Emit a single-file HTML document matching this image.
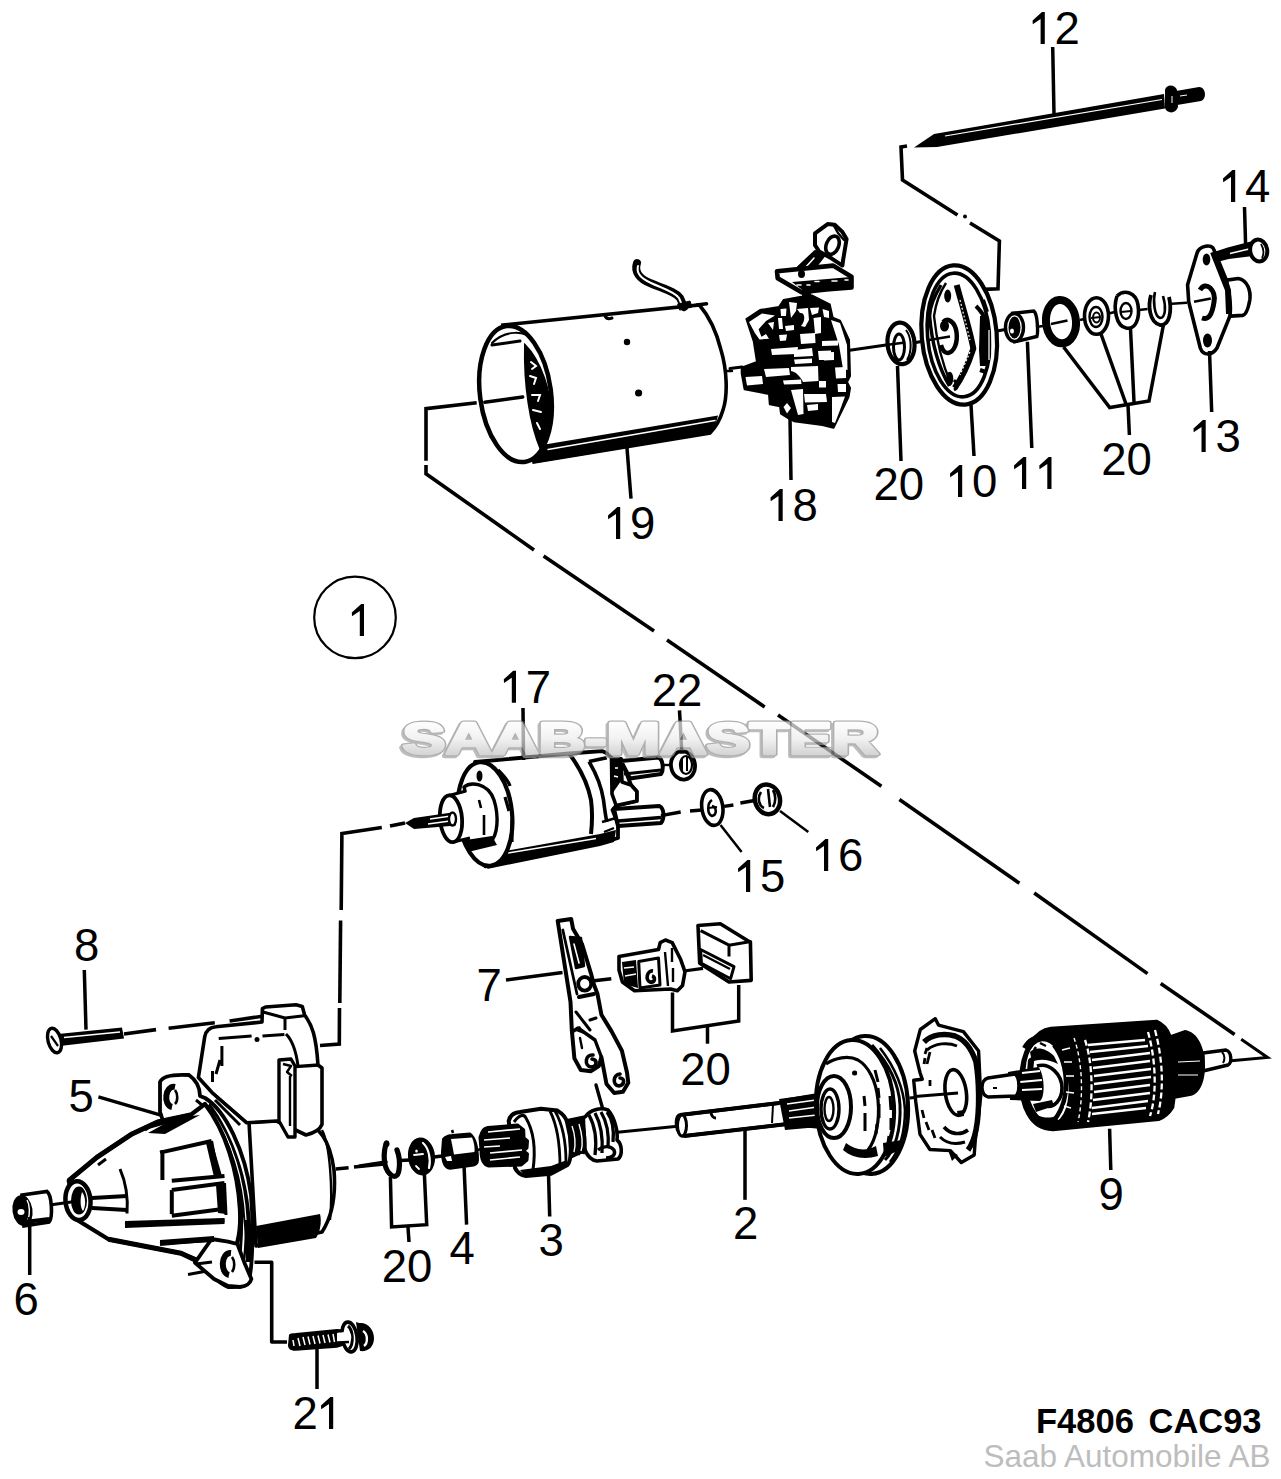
<!DOCTYPE html>
<html><head><meta charset="utf-8"><style>
html,body{margin:0;padding:0;background:#fff;width:1281px;height:1479px;overflow:hidden}
svg{display:block}
text{font-family:"Liberation Sans",sans-serif}
</style></head><body>
<svg width="1281" height="1479" viewBox="0 0 1281 1479">
<defs>
<linearGradient id="wg" gradientUnits="userSpaceOnUse" x1="0" y1="721" x2="0" y2="757">
<stop offset="0" stop-color="#ffffff"/><stop offset="0.5" stop-color="#ececec"/><stop offset="1" stop-color="#bcbcbc"/>
</linearGradient>
</defs>

<g id="dashes" stroke="#000" stroke-width="3.6" fill="none" stroke-linejoin="miter">
<polyline points="476.7,402.8 426,408.7 426,460.8"/>
<line x1="485.5" y1="401.7" x2="522.4" y2="397"/>
<polyline points="426,465 426,473.7 534,550"/>
<line x1="543.6" y1="556" x2="654" y2="631"/>
<line x1="667" y1="640" x2="764.7" y2="707"/>
<line x1="778" y1="715" x2="881.4" y2="786.3"/>
<line x1="899.4" y1="799.4" x2="1019.4" y2="883.2"/>
<line x1="1034.2" y1="893" x2="1147.5" y2="973.6"/>
<line x1="1160.7" y1="983.5" x2="1234.6" y2="1034.4"/>
<polyline points="1241.2,1039.3 1267.5,1057.4 1231.3,1060.7" stroke-width="3"/>
<!-- from rod 12 -->
<polyline points="907,146 901,147 902.5,180 957.5,215"/>
<circle cx="965" cy="216.5" r="2" fill="#000" stroke="none"/>
<polyline points="970,223 999.4,241 998,288.7 983.7,289.4"/>
</g>
<g id="p12">
<path d="M914,147.5 L934,134 L1164,94 L1165,108.5 L937,147 Z" fill="#000"/>
<line x1="945" y1="136" x2="1162" y2="99.5" stroke="#fff" stroke-width="1.2"/>
<path d="M1165,90 C1166,84 1175,84 1177,90 L1178,107 C1176,114 1167,114 1165,108 Z" fill="#000"/>
<path d="M1176,91 L1199,87 C1206,87 1207,99 1201,101 L1177,105 Z" fill="#000"/>
<line x1="1172" y1="96" x2="1172" y2="103" stroke="#fff" stroke-width="1"/>
<line x1="1180" y1="96" x2="1187" y2="95" stroke="#fff" stroke-width="1"/>
</g>
<g id="p19" stroke="#000" fill="none" stroke-linecap="round">
<path d="M503,325 L699.4,305 C708,315 716,330 721,350 C727,370 728,395 723,410 C720,420 715,428 710,433 L534,462 Z" fill="#fff" stroke-width="3.6"/>
<line x1="706" y1="303" x2="707" y2="303" stroke-width="0"/>
<line x1="697" y1="305" x2="706.5" y2="303.8" stroke-width="3.6"/>
<path d="M542,445 L718,415.5 C716,424 713,430 709,434 L533,463.5 Z" fill="#000" stroke="none"/>
<line x1="548" y1="449.5" x2="715" y2="420.5" stroke="#fff" stroke-width="1.4"/>
<ellipse cx="515.5" cy="394" rx="35.5" ry="68.5" transform="rotate(-7.5 515.5 394)" fill="#fff" stroke-width="4.5"/>
<path d="M492,343 C505,330 525,330 533,340" stroke-width="2"/>
<path d="M492,345 L520,341" stroke-width="3"/>
<path d="M525,345 C540,360 552,392 551,420 C549,435 545,445 541,450 C530,425 524,385 525,345 Z" fill="#000" stroke-width="2"/>
<path d="M531,362 l5,4 l-4,3 M530,376 l6,2 l-2,6 M532,395 l8,0 l-2,6 M533,410 l8,2 M537,423 l3,6" stroke="#fff" stroke-width="2"/>
<line x1="484.8" y1="402.3" x2="522.7" y2="397" stroke-width="3.4"/>
<path d="M605,316 q2,4 7,2" stroke-width="3"/>
<circle cx="627" cy="342" r="3.2" fill="#000" stroke="none"/>
<circle cx="638.6" cy="393" r="3.6" fill="#000" stroke="none"/>
<path d="M727,371 l5,0" stroke-width="2.4"/>
<path d="M637,263 C634,272 640,279 650,283 C664,289 676,292 680,298 L684,307" stroke-width="8"/>
<path d="M638,266 C636,273 642,279 651,283 C664,289 675,292 679,298 L682,305" stroke="#fff" stroke-width="2"/>
<path d="M678,304 l12,-3 l2,6 l-12,3 z" fill="#000" stroke-width="1"/>
</g>

<g id="p18" stroke="#000" fill="none" stroke-linejoin="round" stroke-linecap="round">
<line x1="742" y1="367" x2="730" y2="368.5" stroke-width="3"/>
<line x1="848" y1="350.4" x2="886" y2="345" stroke-width="3"/>
<path d="M815,233.3 L827.6,224.1 L834.7,224.8 L842.4,231.9 L846.6,239 L843,260.7 L842.4,265.6 L831.8,258.6 L819.2,251.5 L815,245.2 Z" fill="#fff" stroke-width="4"/>
<path d="M834,226 L838,233 L844,240" stroke-width="2.4"/>
<ellipse cx="832.5" cy="245.2" rx="6.2" ry="9.5" transform="rotate(22 832.5 245.2)" fill="#fff" stroke-width="3.6"/>
<path d="M798,267 L815,251 L825,255 L807,278 Z" fill="#000" stroke-width="2"/>
<path d="M805,268 L814,258" stroke="#fff" stroke-width="1.6"/>
<path d="M777,271.2 L833.2,265.6 L851.5,276.8 L851.5,287.4 L826.2,289.5 L801.6,292.3 L777.7,278.2 Z" fill="#fff" stroke-width="4.6"/>
<path d="M792,282 L851,277 L851.5,287 L805,292 Z" fill="#000" stroke="none"/>
<path d="M797,285 l4,0 M807,285 l3,0 M815,281.5 l4,0 M832,281 l5,0 M845,280 l3,0" stroke="#fff" stroke-width="1.6"/>
<ellipse cx="801.5" cy="274" rx="3.5" ry="4" fill="#000" stroke="none"/>
<path d="M801,290 L812,290 L810,300 L803,300 Z" fill="#000" stroke="none"/>
<path d="M746.4,319 L760,310 L779,307 L783.6,300 L800,297 L811.8,295.4 L829.7,304.3 L832.7,317.7 L840,320.7 L849,340 L850,376 L847,382 L850,388 L848.5,397 L833.5,427.8 L822.3,425 L794,421.2 L788.6,418.4 L781,413.7 L780,406.2 L769.8,404.3 L769,394 L744.6,389.3 L741.7,373.4 L741.7,367.8 L757,362 L753.8,341.5 Z" fill="#000" stroke-width="2"/>
<g fill="#fff" stroke="none">
<path d="M749,322 L762,313.5 L775,315.5 L766,321 L758.6,329.3 L761.4,336.8 L766,334 L769,338.7 L759.5,339.6 L754.9,333 Z"/>
<path d="M780.5,309 L786.5,308.5 L786,316 L781,316 Z"/>
<path d="M789,302 L797,303 L796,311 L791,318 Z"/>
<path d="M797,309 L808,308 L809,320 L805,327 L801,326 C806,320 805,312 800,313 Z"/>
<path d="M810,308 L819,307.5 L818,313 L812,315 Z"/>
<path d="M822.5,309 L829,311 L829,318 L824,317 Z"/>
<path d="M813.5,318 L821,317 L821,333 L815,334 Z"/>
<path d="M831,320 L840,323 L847,345 L847.5,370 L843,369 L839,345 Z"/>
<path d="M800,334 L815,333 L815.5,343 L801,344 Z"/>
<path d="M771,349 L798,347 L797,354 L772,355 Z"/>
<path d="M794,350 L812,348 L813,356 L794,357 Z"/>
<path d="M794,359.5 L812,358.5 L812,363 L795,364 Z"/>
<path d="M822,341 L838,340.5 L838,345.5 L822,346 Z"/>
<path d="M823,352.5 L834,352 L834,360 L824,360.5 Z"/>
<path d="M764,369 L789,368 L790,375 L766,377 Z"/>
<path d="M745.5,377 L762,376 L763,384 L747,385.5 Z"/>
<path d="M783,380.5 L801,379.5 L801.5,384 L784,384.5 Z"/>
<path d="M791,367 L818,366 L818.5,381 L803,382 C800,376 796,372 791,371 Z"/>
<path d="M835,367.5 L846,367 L846,378 L836,378.5 Z"/>
<path d="M818,351 L831,350.5 L831,360 L819,360 Z"/>
<path d="M837.5,384 L846,384 L846,392 L838,392 Z"/>
<path d="M791,390 L803,389 L803.5,414 L798,415 Z"/>
<path d="M804,394 L826,394 L827,402 L805,402.5 Z"/>
<path d="M783.5,407 L787,403 L791,408 L787,413.5 Z"/>
<path d="M832,397 L845,396.5 L840,410 L835,423 L832,422 Z"/>
<path d="M819,381 L826,381 L826,387.5 L819,387.5 Z"/>
<path d="M807,405 L818,404 L818,410 L808,411 Z"/>
<path d="M778,318 L782,318 L783,329 L779,329 Z"/>
<path d="M785,326 L794,325 L794,330 L786,331 Z"/>
<path d="M779,335 L787,334.5 L786,340.5 L780,341 Z"/>
<path d="M768,323 L774,322 L773,330 Z"/>
</g>
</g>
<g id="p10" stroke="#000" fill="none" stroke-linejoin="round">
<line x1="916" y1="342.5" x2="950" y2="336" stroke-width="3"/>
<line x1="997" y1="331" x2="1008" y2="329" stroke-width="3"/>
<ellipse cx="959.2" cy="335" rx="37.5" ry="69.8" transform="rotate(-5 959.2 335)" fill="#fff" stroke-width="4.2"/>
<ellipse cx="958.5" cy="335" rx="31" ry="62" transform="rotate(-5 958.5 335)" stroke-width="3.6"/>
<path d="M980,316 L988,316 L990,350 L988,366 L980,366 L979,350 Z" fill="#000" stroke="none"/>
<path d="M976,306 C982,312 985,318 986,322 M983,300 l4,12 M980,370 l6,2" stroke-width="4"/>
<path d="M989,330 l0,30 M992,325 l0,28" stroke="#fff" stroke-width="1.2"/>
<path d="M941,285 C935,295 930,305 929.6,316 C932,345 940,370 949.4,386" stroke-width="3.4"/>
<path d="M946,283 C940,292 936,302 934,316 C937,345 944,368 951,384" stroke-width="2.4"/>
<path d="M956.7,285 C962,305 970,330 973.3,348.6 C968,365 962,378 954.6,388" stroke-width="6"/>
<path d="M960,300 L970,340 M970,352 L960,375" stroke="#fff" stroke-width="1.2" stroke-dasharray="2 2"/>
<path d="M943,322 C948,317 955,322 956.5,332 C958,343 954,352 948,353 C944,353 942,349 941,345" stroke-width="4.5"/>
<ellipse cx="944.5" cy="326" rx="4.5" ry="5.5" fill="#000" stroke="none"/>
<ellipse cx="947.7" cy="296" rx="3.5" ry="6.5" fill="#000" stroke="none"/>
<ellipse cx="949.7" cy="378.7" rx="3.6" ry="7" fill="#000" stroke="none"/>
<path d="M954,380 C958,384 958,388 954,390" stroke-width="3"/>
<line x1="929" y1="340" x2="950" y2="336.5" stroke-width="2.6"/>
</g>
<g id="p20a" stroke="#000" fill="none">
<ellipse cx="901" cy="343.4" rx="13.5" ry="20.8" transform="rotate(-5 901 343.4)" fill="#fff" stroke-width="4.2"/>
<ellipse cx="899" cy="347" rx="5.5" ry="13" stroke-width="3"/>
<path d="M906,330 C912,338 912,352 907,360" stroke-width="2"/>
<line x1="886" y1="345" x2="905" y2="342.5" stroke-width="2.6"/>
</g>
<g id="p11" stroke="#000" fill="none">
<path d="M1012.6,313.3 L1033.7,311 C1038,314 1038,334 1036.9,336.5 L1014.8,341.7 Z" fill="#fff" stroke-width="3.4"/>
<ellipse cx="1014.5" cy="327.5" rx="9" ry="14" fill="#fff" stroke-width="3.4"/>
<ellipse cx="1014.5" cy="327.5" rx="6" ry="11" fill="#000" stroke="none"/>
<ellipse cx="1012" cy="331" rx="2" ry="2.5" fill="#fff" stroke="none"/>
<line x1="1036" y1="327" x2="1043" y2="326" stroke-width="2.6"/>
</g>
<g id="p20b" stroke="#000" fill="none">
<ellipse cx="1061" cy="321.7" rx="15" ry="21.7" transform="rotate(-5 1061 321.7)" stroke-width="8"/>
<line x1="1051" y1="324" x2="1067.5" y2="320.6" stroke-width="2.6"/>
<line x1="1080" y1="320" x2="1084.3" y2="319" stroke-width="2.6"/>
<ellipse cx="1096.5" cy="316" rx="12" ry="18.3" stroke-width="3.6"/>
<ellipse cx="1096" cy="317" rx="6.5" ry="10" stroke-width="2.4"/>
<ellipse cx="1096.5" cy="317.5" rx="3.5" ry="5" stroke-width="2"/>
<line x1="1091" y1="318" x2="1101" y2="317" stroke-width="2"/>
<line x1="1109.6" y1="313.3" x2="1115" y2="312" stroke-width="2.6"/>
<path d="M1117,296 C1124,289 1136,292 1138,305 C1140,318 1136,330 1126,328 C1116,326 1113,308 1117,296" stroke-width="3.6"/>
<ellipse cx="1126" cy="311" rx="5.5" ry="8" stroke-width="2.4"/>
<line x1="1121" y1="312" x2="1131" y2="311" stroke-width="2"/>
<line x1="1139" y1="310" x2="1147.6" y2="309" stroke-width="2.6"/>
<path d="M1151,295 C1148,305 1149,322 1160,325 C1170,326 1172,310 1169,297" stroke-width="3.8"/>
<path d="M1155,292 C1153,300 1154,316 1160,318 C1166,318 1166,306 1163,296" stroke-width="2.6"/>
<line x1="1171.8" y1="303.8" x2="1187" y2="302.7" stroke-width="2.6"/>
</g>
<g id="p13" stroke="#000" fill="none" stroke-linejoin="round">
<path d="M1223.4,280.6 L1238.2,278.5 C1248,280 1251,292 1249.8,300 C1248,310 1246,315 1242.4,315.4 L1226.6,316.4 Z" fill="#fff" stroke-width="3.6"/>
<path d="M1197,253.2 C1199,246 1212,243 1214,250 L1226.6,280.6 C1230,296 1231,310 1229.8,316.4 L1217,348 C1212,356 1203,356 1200.3,348 L1188.7,301.7 L1187.6,284.8 Z" fill="#fff" stroke-width="3.6"/>
<path d="M1213,252 L1228,290 L1229,314" stroke-width="6"/>
<ellipse cx="1206.5" cy="259.5" rx="3.8" ry="6" fill="#000" stroke="none"/>
<ellipse cx="1207.5" cy="340.5" rx="4.5" ry="7" fill="#000" stroke="none"/>
<path d="M1200,290 C1206,280 1216,290 1214,302 C1212,316 1208,320 1202,318" stroke-width="5"/>
<line x1="1194" y1="301.7" x2="1210.8" y2="298.5" stroke-width="2.6"/>
</g>
<g id="p14" stroke="#000" fill="none">
<path d="M1214,252 L1227.7,247.5 L1250.8,241.5 L1253,256 L1228.7,259 L1217,262 Z" fill="#000" stroke="none"/>
<line x1="1230" y1="253.5" x2="1249" y2="249" stroke="#fff" stroke-width="1.4"/>
<ellipse cx="1258.7" cy="250.5" rx="8.5" ry="11" transform="rotate(-10 1258.7 250.5)" fill="#fff" stroke-width="4"/>
<path d="M1261,244 C1264,249 1264,254 1262,258" stroke-width="1.8"/>
</g>

<g id="dash2" stroke="#000" stroke-width="3.6" fill="none">
<polyline points="381.8,827.5 341.9,833.5 341.2,910"/>
<line x1="390" y1="826" x2="405" y2="823"/>
<line x1="340.6" y1="920.6" x2="339.8" y2="1003"/>
<polyline points="339.5,1008 339.3,1044 320,1045.5"/>
</g>
<g id="p17" stroke="#000" fill="none" stroke-linejoin="round">
<path d="M475,762 L569,753.5 L602,751.2 C606,752 609,755 612.5,758.7 L621,759 L631,785 L636.8,791.5 L636.8,801 L616.2,805.6 L612.5,810 L618,824 L618,838 L602,843 L485.4,866.3 Z" fill="#fff" stroke-width="3.8"/>
<path d="M500,852 L600,834 L616,830 L614,842 L600,846 L487,869 Z" fill="#000" stroke="none"/>
<line x1="508" y1="853" x2="596" y2="838.5" stroke="#fff" stroke-width="1.3"/>
<path d="M569.4,754 C580,768 588,785 591,800 C593,815 592,825 591,834" stroke-width="4"/>
<path d="M589,761.5 C597,775 602,790 603.5,800 C605,812 606,818 606.8,822" stroke-width="3.6"/>
<path d="M589,761.5 L606.8,757.8" stroke-width="3.6"/>
<path d="M602,822 L616,818 M604,832 L614,828" stroke-width="2.4"/>
<path d="M611.5,759 L621,759 L622,782 L631,785 L636.8,791.5 L636.8,801 L616.2,805.6 L612,794 Z" fill="#fff" stroke-width="3.6"/>
<path d="M611.5,759 L620,758.7 L621,781 L612,794 Z" fill="#000" stroke="none"/>
<path d="M615,768 l3,0 M614,776 l4,1" stroke="#fff" stroke-width="1.6"/>
<path d="M621,761 L658.4,757.5 C663,759 664,770 661,774 L630,778.5 Z" fill="#fff" stroke-width="4"/>
<path d="M624,774 L661,770" stroke-width="3"/>
<path d="M614,809 L659.3,806 C664,808 665,818 661,823 L618,826 Z" fill="#fff" stroke-width="4"/>
<path d="M618,821 L661,817.5" stroke-width="3.4"/>
<line x1="662" y1="765" x2="671" y2="765" stroke-width="2.4"/>
<ellipse cx="485" cy="814" rx="27" ry="52" transform="rotate(-6 485 814)" fill="#fff" stroke-width="4.2"/>
<path d="M498,770 C504,776 508,780 510,786" stroke-width="3.4"/>
<ellipse cx="479.5" cy="776" rx="3" ry="5.5" fill="#000" stroke="none"/>
<path d="M505,797 l4,14 M512,820 l0,22" stroke-width="3.2"/>
<path d="M464,787 C470,782 488,782 494,800 C499,816 498,836 490,842 L466,845 C470,830 468,800 464,787 Z" fill="#fff" stroke-width="3.4"/>
<path d="M479,800 l2,8 M484,815 l0,20" stroke-width="2.6"/>
<path d="M466,840 L492,836 L497,845 L468,852 Z" fill="#000" stroke="none"/>
<path d="M451,795 L470,791 L474,836 L453,842 Z" fill="#fff" stroke="none"/>
<line x1="451" y1="795" x2="466" y2="791" stroke-width="3.2"/>
<line x1="453" y1="842" x2="470" y2="838" stroke-width="3.2"/>
<ellipse cx="451" cy="818.7" rx="11" ry="23.5" transform="rotate(-5 451 818.7)" fill="#fff" stroke-width="3.8"/>
<path d="M405,823 L414,818 L452,812.5 L456,825.5 L414,829 Z" fill="#000" stroke="none"/>
<path d="M430,819 L451,816 M428,824 L450,821" stroke="#fff" stroke-width="1.6"/>
<ellipse cx="452.5" cy="819" rx="3.5" ry="6.5" fill="#fff" stroke-width="2.4"/>
</g>
<g id="p22" stroke="#000" fill="none">
<ellipse cx="683" cy="765.4" rx="12" ry="14.2" transform="rotate(-10 683 765.4)" fill="#fff" stroke-width="3.8"/>
<ellipse cx="686" cy="765" rx="6" ry="9" stroke-width="2.2"/>
<path d="M682,758 l0,14 M687,757 l0,14" stroke-width="2"/>
</g>
<g id="p15" stroke="#000" fill="none">
<line x1="661" y1="815.7" x2="680.7" y2="812" stroke-width="3.4"/>
<line x1="690" y1="811" x2="701.8" y2="810" stroke-width="3.4"/>
<ellipse cx="712.3" cy="807.5" rx="10.5" ry="18" transform="rotate(-8 712.3 807.5)" fill="#fff" stroke-width="3.6"/>
<path d="M712,800 C707,803 707,814 712,816 C717,815 717,807 712,806" stroke-width="2.6"/>
<line x1="708" y1="808" x2="717" y2="807" stroke-width="2"/>
<line x1="724" y1="806.4" x2="733.4" y2="805" stroke-width="3.4"/>
<line x1="740.4" y1="803" x2="754.5" y2="800.5" stroke-width="3.4"/>
</g>
<g id="p16" stroke="#000" fill="none">
<ellipse cx="767.4" cy="799.3" rx="12.5" ry="15" transform="rotate(-15 767.4 799.3)" fill="#fff" stroke-width="4.5"/>
<path d="M761,792 C757,798 759,806 764,808 M768,789 l2,18 M773,790 c3,5 3,12 0,17" stroke-width="2.6"/>
</g>

<g id="p8" stroke="#000" fill="none">
<path d="M58,1034 L122,1027.5 L124,1038.5 L60,1046 Z" fill="#000" stroke="none"/>
<line x1="64" y1="1037.5" x2="120" y2="1032" stroke="#fff" stroke-width="1.3"/>
<ellipse cx="54.5" cy="1040.5" rx="6.5" ry="12.5" transform="rotate(-15 54.5 1040.5)" fill="#fff" stroke-width="3.4"/>
<line x1="51" y1="1036" x2="58" y2="1046" stroke-width="2.2"/>
<g stroke-width="3.6">
<line x1="124" y1="1034" x2="156" y2="1029.6"/>
<line x1="168.6" y1="1028.3" x2="214.8" y2="1022.8"/>
<line x1="229.6" y1="1021" x2="265.6" y2="1015.8"/>
</g>
</g>
<g id="p5" stroke="#000" fill="none" stroke-linejoin="round">
<!-- field housing body right -->
<path d="M249,1122 L274.8,1121 L300,1122 C318,1124 330,1140 334,1170 C336,1195 333,1215 322,1232 L256,1246 Z" fill="#fff" stroke-width="3.6"/>
<path d="M256,1226 L320,1214 C322,1222 320,1232 316,1238 L258,1248 Z" fill="#000" stroke="none"/>
<path d="M322,1130 C330,1145 333,1190 330,1220" stroke-width="2.4"/>
<line x1="335.7" y1="1169" x2="348.6" y2="1167.8" stroke-width="3.4"/>
<line x1="354" y1="1167" x2="384" y2="1164" stroke-width="3.4"/>
<!-- upper housing -->
<path d="M204.7,1036.9 C206,1030 210,1027 216,1026.7 L262,1022 L262.4,1008.7 L265.6,1007 L296,1004.8 L302.3,1006.4 L304.6,1015 C312,1025 316,1035 318,1065 L322,1068 L322,1124.4 C320,1130 314,1133 306,1135 L276.5,1121 L246.8,1122.8 L212.5,1093 L198.4,1077.5 Z" fill="#fff" stroke-width="3.6"/>
<path d="M218.7,1038.4 L251.6,1036 M262.5,1036 L284.4,1034.5 M221.9,1046 L221.9,1066 M212.5,1071 L212.5,1082 M220,1060 l-4,14 M263,1012 L285,1018 L285,1030 M285,1018 L304,1015.8" stroke-width="3"/>
<circle cx="257" cy="1039.5" r="2.5" fill="#000" stroke="none"/>
<path d="M286,1034 C292,1040 296,1050 298,1066" stroke-width="3"/>
<path d="M279,1060 L291,1059 L295,1066 L295,1137 L288,1137 L279,1121 Z" fill="#fff" stroke-width="3.4"/>
<path d="M283,1064 l8,2 l-4,6 l5,4 M290,1076 l0,50" stroke-width="2.4"/>
<line x1="295" y1="1066.6" x2="318.7" y2="1065" stroke-width="3.4"/>
<path d="M212.5,1093 L246.8,1122.8 M215,1100 L240,1125" stroke-width="3"/>
<!-- flange -->
<path d="M160,1082 C162,1077 170,1074 189,1075 C196,1080 200,1086 200,1096 L205,1098 C225,1110 245,1150 251,1195 C254,1230 252,1270 249,1279 C245,1286 238,1288 228,1287 C220,1284 214,1278 214,1270 L160,1112 Z" fill="#fff" stroke-width="3.8"/>
<path d="M196,1100 C222,1120 238,1160 241,1200 C243,1235 240,1265 235,1280" stroke-width="3"/>
<path d="M205,1104 C228,1130 245,1180 246,1220 C246,1250 244,1268 240,1278" stroke-width="2.4"/>
<path d="M210,1103 C234,1135 249,1180 251,1225 L252,1262 L246,1262 C246,1215 236,1150 206,1108 Z" fill="#000" stroke="none"/>
<path d="M212,1112 C232,1140 244,1180 246,1220" stroke="#fff" stroke-width="1.2"/>
<path d="M175,1087 C165,1085 163,1105 172,1107" stroke-width="6"/>
<path d="M175,1090 C178,1094 178,1101 175,1104" stroke-width="2.6"/>

<line x1="188" y1="1274.4" x2="214" y2="1269.7" stroke-width="3"/>
<!-- cone -->
<path d="M68.7,1180.7 L96.8,1157.3 L132,1133.9 L157.7,1122 L190.5,1115 L205,1104 C225,1130 238,1170 240,1210 C241,1230 238,1245 232,1255 L212,1266 L181,1253.3 L108.5,1239.3 L78,1220.5 Z" fill="#fff" stroke-width="4.2"/>
<path d="M68.7,1180.7 L96.8,1157.3 L132,1133.9 L157.7,1122 L190.5,1115" stroke-width="5"/>
<path d="M108.5,1239.3 L181,1253.3 L212,1268" stroke-width="5"/>
<path d="M211.6,1239 L228,1241.6 L237.4,1244 L244.4,1262.7 L251.4,1279 C250,1284 247,1286 240,1287 L228,1286 L214,1279 L195,1262.7 Z" fill="#fff" stroke-width="3.8"/>
<path d="M231,1253 C221,1252 220,1273 229,1275" stroke-width="6"/>
<path d="M232,1257 C235,1261 235,1268 232,1272" stroke-width="2.6"/>
<path d="M196,1264 L212,1262" stroke-width="3"/>
<path d="M148,1127 L190.5,1115 M160,1152.6 L211.6,1141 M162.4,1150 L162.4,1180 M171.8,1180.7 L224.5,1176 M171.8,1190 L224.5,1183 M171.8,1190 L171.8,1214 M171.8,1215.8 L224.5,1208.8 M125,1225 L224.5,1220.5 M160,1244 L214,1239.3" stroke-width="4"/>
<path d="M211.6,1141 L218,1176 M224.5,1183 L226,1215" stroke-width="3"/>
<path d="M206,1143 L212,1141 L222,1176 L214,1177 Z M216,1185 L224,1184 L226,1214 L218,1213 Z" fill="#000" stroke="none"/>
<path d="M120,1169 C127,1185 128,1200 127,1213.5 M98,1165 l8,-6 M145,1130 l6,-4" stroke-width="3"/>
<path d="M92,1198 L127,1196 M92,1208 L127,1210" stroke-width="4"/>
<path d="M125,1221 L224.5,1218 L224.5,1224 L125,1228 Z" fill="#000" stroke="none"/>
<path d="M160,1240 L214,1236 L214,1242 L160,1245 Z" fill="#000" stroke="none"/>
<path d="M148,1133 L175,1118 L200,1115 L165,1134 Z" fill="#000" stroke="none"/>
<ellipse cx="78" cy="1200.6" rx="12.5" ry="19.5" transform="rotate(-5 78 1200.6)" fill="#fff" stroke-width="4.5"/>
<ellipse cx="79" cy="1200.6" rx="7" ry="13" fill="#000" stroke-width="2"/>
<path d="M82,1192 C86,1197 86,1206 83,1211 C80,1208 80,1198 82,1192 Z" fill="#fff" stroke="none"/>
<line x1="51.5" y1="1204.7" x2="75" y2="1201.5" stroke-width="3"/>
</g>
<g id="p6" stroke="#000" fill="none">
<path d="M22,1195 L47,1191.5 C52,1195 53,1218 49,1222 L24,1226 Z" fill="#fff" stroke-width="3.6"/>
<ellipse cx="22.5" cy="1210.5" rx="9" ry="14.5" transform="rotate(-8 22.5 1210.5)" fill="#000" stroke-width="2"/>
<ellipse cx="21" cy="1212" rx="3.5" ry="3" fill="#fff" stroke="none"/>
<path d="M27,1200 C30,1205 30,1214 28,1220" stroke="#fff" stroke-width="1.4"/>
<path d="M25,1222 L49,1219" stroke-width="4"/>
</g>
<g id="p21" stroke="#000" fill="none" stroke-linejoin="round">
<polyline points="254.5,1262.3 271.7,1262.3 271.7,1342 287,1342" stroke-width="3.6"/>
<path d="M289,1335 C290,1333 293,1333.5 296,1333 L337,1329 L352,1330 L352,1343 L337,1347.7 L296,1350.7 C291,1351 288,1349 288,1345 Z" fill="#000" stroke="none"/>
<path d="M337,1333 L350,1331.5 L350,1341.5 L337,1342.5 Z" fill="#fff" stroke="none"/>
<path d="M298,1338 l2,8 M303,1337 l2,8 M308,1336.5 l2,8 M313,1336 l2,8 M318,1335.5 l2,8 M323,1335 l2,8 M328,1334.5 l2,8 M333,1334 l1.5,8" stroke="#fff" stroke-width="1.5"/>
<path d="M293,1340 l1,6" stroke="#fff" stroke-width="1.5"/>
<path d="M359,1323 C368,1322 374,1330 374,1338 C374,1348 367,1352 360,1351 L356,1322 Z" fill="#000" stroke="none"/>
<path d="M363,1331 C368,1334 368,1343 364,1346" stroke="#fff" stroke-width="2.4"/>
<ellipse cx="349.5" cy="1337" rx="7.5" ry="15" transform="rotate(-8 349.5 1337)" fill="#fff" stroke-width="3.6"/>
<path d="M348,1326 C353,1330 354,1344 349,1349" stroke-width="3"/>
<path d="M337,1333 L349,1331.5 C352,1335 352,1340 349,1342 L337,1342.5" fill="#fff" stroke="none"/>
<path d="M337,1342.5 L349,1342" stroke-width="2.4"/>
</g>

<g id="p20c" stroke="#000" fill="none" stroke-linecap="round">
<line x1="360" y1="1166" x2="386" y2="1162" stroke-width="3.4"/>
<line x1="400" y1="1160.5" x2="410" y2="1160" stroke-width="3.4"/>
<path d="M386.5,1143 C383,1152 383,1168 390,1174 C394,1178 398,1177 399,1170 C400,1163 399,1155 397,1150" stroke-width="5.2"/>
<circle cx="386.5" cy="1144" r="3" fill="#000" stroke="none"/>
<ellipse cx="421.5" cy="1156.5" rx="11.5" ry="17" transform="rotate(-6 421.5 1156.5)" fill="#000" stroke-width="4"/>
<path d="M423,1143 C429,1148 431,1160 429,1168" stroke="#fff" stroke-width="2.2"/>
<path d="M414,1155 L423,1154 M416,1166 l3,3" stroke="#fff" stroke-width="1.8"/>
<ellipse cx="416.5" cy="1151" rx="1.3" ry="1.6" fill="#fff" stroke="none"/>
<line x1="434" y1="1157" x2="442" y2="1156" stroke-width="3.4"/>
</g>
<g id="p4" stroke="#000" fill="none" stroke-linejoin="round">
<path d="M443,1139 C445,1136 450,1135 452,1135 L470,1133.5 C476,1138 478,1150 478,1160 C478,1165 475,1166 470,1166 L450,1168.7 C444,1168 442,1162 442,1152 Z" fill="#000" stroke="#000" stroke-width="2"/>
<path d="M451,1139 L472,1137.5 C474,1142 475,1148 474.5,1152 L454,1154.5 Z" fill="#fff" stroke="none"/>
<path d="M445,1157 L451,1156 L452,1161 L447,1161 Z" fill="#fff" stroke="none"/>
<path d="M453,1133 l-1,-3" stroke-width="2.6"/>
<line x1="477" y1="1150" x2="482" y2="1149" stroke-width="2.6"/>
</g>
<g id="p3" stroke="#000" fill="none" stroke-linejoin="round">
<line x1="615" y1="1132.5" x2="680" y2="1126" stroke-width="3"/>
<!-- spring -->
<path d="M566,1121 L585,1117 C590,1110 600,1107 608,1110 C615,1118 618,1132 617,1140 C622,1144 623,1155 618,1159 L597,1161 C590,1160 587,1155 585,1150 L568,1158 Z" fill="#fff" stroke="#000" stroke-width="3.6"/>
<path d="M571,1122 C575,1132 576,1145 573,1156 M576,1121 C580,1132 581,1145 578,1155 M581,1120 C585,1130 586,1145 583,1154 M589,1115 C595,1126 597,1140 595,1155 M595,1113 C601,1124 603,1138 602,1153 M601,1112 C607,1122 609,1136 608,1148 M607,1112 C613,1120 614,1132 613,1142" stroke="#000" stroke-width="3.3"/>
<path d="M567,1121 L585,1117 L587,1152 L568,1158 Z" fill="#000" stroke="none"/>
<path d="M572,1126 C575,1134 576,1145 574,1152 M579,1124 C582,1134 583,1145 581,1151" stroke="#fff" stroke-width="1.4"/>
<path d="M598,1150 C603,1146 610,1145 614,1150 C616,1155 612,1158 606,1158" stroke="#000" stroke-width="3.4"/>
<path d="M568,1140 l0,15 M566,1125 l0,10" stroke="#000" stroke-width="4"/>
<!-- drum -->
<path d="M508.7,1121 C510,1115 514,1112.5 520,1112 L541,1108.7 L557.5,1110.6 C563,1114 566,1118 567,1122 C572,1140 572,1160 567.5,1165 L551,1173.7 L526,1176 C520,1175 517,1172 515,1168 Z" fill="#fff" stroke-width="4"/>
<path d="M514,1122 C520,1114 524,1114 526,1118 C533,1130 536,1148 533,1170" stroke-width="3"/>
<path d="M550,1111 C557,1125 560,1145 560,1166 M555,1111 C563,1125 566,1145 566,1162" stroke-width="2.8"/>
<path d="M520,1170 L551,1166 L567,1160 L567,1166 L551,1175 L526,1177 Z" fill="#000" stroke="none"/>
<!-- gear -->
<path d="M480,1137.5 C482,1130 484,1128 488,1127.5 L517.5,1125 L523.7,1130 L524,1138 L527.5,1141 L527,1148 L523.7,1151 L527.5,1154 L527,1160 L521,1165 L488.7,1166 C484,1165 481,1160 481,1150 Z" fill="#000" stroke="#000" stroke-width="3"/>
<path d="M488,1132 L520,1129 M484,1140 L510,1138 M484,1147 L500,1146 M490,1153 L522,1150 M490,1160 L520,1157" stroke="#fff" stroke-width="1.7"/>
</g>

<g id="p7" stroke="#000" fill="none" stroke-linejoin="round" stroke-linecap="round">
<line x1="596" y1="1085" x2="602.5" y2="1108" stroke-width="3.4"/>
<path d="M557.7,921 L571.2,919 L573,928.7 L582,944 L591,973.6 L593.7,984 L597.5,994 L601.4,1014.7 L611.6,1031.4 L621.9,1050.7 L627,1072.5 L628.3,1082.8 L623,1091.7 L614.2,1093 L606.5,1084 L601.4,1057 L598.8,1066 L591,1071.2 L580.8,1070 L574.4,1058.4 L571.8,1030 L570.5,1001.9 Z" fill="#fff" stroke-width="4"/>
<path d="M562.8,930 L577,994" stroke-width="2.8"/>
<path d="M570,937 L581,938 L584,966 L576,968 Z" fill="#000" stroke-width="2.4"/>
<path d="M574,944 L579,963" stroke="#fff" stroke-width="1.6"/>
<ellipse cx="584.7" cy="983.8" rx="6.5" ry="6.8" fill="#fff" stroke-width="3.8"/>
<path d="M579,997 L594,994" stroke-width="4"/>
<path d="M576,1012 L590,1030 M590,1020 l6,-2" stroke-width="3"/>
<path d="M572,1032 L578,1028 L595,1040 L601.4,1057" stroke-width="3.4"/>
<path d="M573,1030 L580,1026 L584,1034 Z" fill="#000" stroke="none"/>
<path d="M580,1038 l2,10" stroke-width="2.4"/>
<path d="M593,1055 C585,1054 584,1066 591,1067 C597,1067 598,1060 592,1059" stroke-width="3.6"/>
<path d="M620,1074 C613,1075 612,1085 619,1086 C625,1085 625,1078 620,1078" stroke-width="3.6"/>
</g>
<g id="p20d" stroke="#000" fill="none" stroke-linejoin="round">
<line x1="589.8" y1="981.3" x2="611.3" y2="978.7" stroke-width="3.4"/>
<line x1="684" y1="971" x2="703" y2="968.4" stroke-width="3.2"/>
<path d="M619,956.4 L658.5,949.5 L660.2,942.6 L665.4,940 L672.2,942.6 L680.8,959.8 L685,971.8 L682.5,985.6 L677.4,990.7 L670.5,989 L634.5,990.7 L622.4,982 L619,970 Z" fill="#fff" stroke-width="3.6"/>
<path d="M638.7,961.5 L658.5,958 L660,985 L640,988 Z" fill="none" stroke-width="3"/>
<path d="M622,962 L636,960 L638,988 L624,984 Z" fill="#000" stroke="none"/>
<path d="M624,968 L634,967 M625,976 L636,974" stroke="#fff" stroke-width="1.6"/>
<path d="M653,971 C647,970 645,980 650,982 C655,983 656,977 652,976" stroke-width="3.6"/>
<path d="M665,952 L668,986 M672,948 l0,14 M673,968 l0,14" stroke-width="2.4"/>
<path d="M698,925.5 L720.3,923.7 L749.5,941.8 L750.4,941.8 L751.2,980.4 L729,982 L699.7,963.2 Z" fill="#fff" stroke-width="3.6"/>
<path d="M700.6,930.6 L729,945.2 L749.5,941.8 M729,945.2 L729,956.4" stroke-width="3"/>
<path d="M700.6,949.5 L734,966.7 L730.6,978.7 L701.4,963.2 Z" fill="none" stroke-width="3"/>
<path d="M703,955 L730,969" stroke-width="2.4"/>
</g>

<g id="p2" stroke="#000" fill="none" stroke-linejoin="round">
<path d="M680,1115 L779.4,1103 L787,1100 L816.6,1095 L819,1127 L787.4,1124 L684,1136 C676,1136 674,1116 680,1115 Z" fill="#fff" stroke-width="3.6"/>
<path d="M680,1115 L779.4,1103 M684,1136 L787.4,1124" stroke-width="4"/>
<path d="M779,1099 L817,1094 L819,1127 L785,1130 Z" fill="#000" stroke="none"/>
<path d="M787,1104 L816,1100 M789,1111 L817,1107 M789,1118 L817,1115" stroke="#fff" stroke-width="1.6"/>
<ellipse cx="682" cy="1125.5" rx="4.5" ry="10.5" fill="#fff" stroke-width="3"/>
<path d="M711,1113 c1,4 3,5 5,5" stroke-width="3"/>
<path d="M773,1105 l-1,18" stroke-width="2"/>
</g>
<g id="phub" stroke="#000" fill="none" stroke-linejoin="round">
<ellipse cx="868" cy="1105" rx="40" ry="69" transform="rotate(-3 868 1105)" fill="#fff" stroke-width="4"/>
<path d="M872,1045 C890,1065 899,1085 900,1105 C901,1130 895,1150 885,1160" stroke-width="3"/>
<path d="M880,1048 C897,1070 904,1090 905,1110 C905,1135 898,1152 890,1162" stroke-width="2.6"/>
<ellipse cx="855" cy="1107" rx="39" ry="67" transform="rotate(-3 855 1107)" fill="#fff" stroke-width="4"/>
<path d="M826,1064 C835,1058 848,1055 858,1060 C868,1066 876,1080 878,1100 C880,1120 876,1140 868,1150" stroke-width="3.2"/>
<path d="M864,1096 l1,10 M865,1113 l0,18 M875,1070 l3,12 M878,1088 l1,10 M879,1104 l0,14 M877,1124 l-1,10 M890,1096 l1,14 M891,1118 l0,12 M889,1136 l-2,14" stroke-width="3"/>
<circle cx="854.5" cy="1073" r="2.5" fill="#000" stroke="none"/>
<path d="M883,1143 L902,1140 L900,1150 L884,1157 Z" fill="#000" stroke="none"/>
<ellipse cx="834" cy="1107" rx="17" ry="31" fill="#fff" stroke-width="4"/>
<ellipse cx="830" cy="1109" rx="9" ry="20" fill="#fff" stroke-width="3.4"/>
<ellipse cx="829" cy="1109" rx="4.5" ry="12" stroke-width="2.4"/>
<path d="M846,1143 C855,1150 865,1152 876,1146 L878,1156 C865,1160 852,1158 843,1150 Z" fill="#000" stroke="none"/>
<circle cx="855" cy="1073" r="2.2" fill="#000" stroke="none"/>
<line x1="909.4" y1="1098" x2="957.8" y2="1093.4" stroke-width="3"/>
</g>
<g id="pplate" stroke="#000" fill="none" stroke-linejoin="round">
<path d="M920.3,1029.5 L935.3,1018.7 L938.5,1025.1 L963.4,1031.6 L978.6,1051 L980.7,1096.5 L975.3,1139.8 L974.2,1155 L961.3,1162.5 L950.4,1150.6 L929.9,1149.5 L920,1134.4 L915.8,1102 L913.7,1080.3 L922.3,1079.2 L920,1072.7 L914.7,1051 Z" fill="#fff" stroke-width="3.4"/>
<path d="M924,1042 C932,1034 945,1033 955,1036 C966,1040 972,1050 976,1062 C979,1080 980,1110 976,1130 C974,1140 971,1146 968,1150" stroke-width="5.5"/>
<path d="M927,1050 C935,1043 948,1042 957,1046" stroke-width="3"/>
<path d="M927,1048 l-2,6 M925,1058 l-1,6 M930,1052 l-3,12 M930,1080 l0,6 M922,1110 l2,8 M926,1122 l3,8 M932,1130 l3,8" stroke-width="2.8"/>
<path d="M944,1127 C950,1134 960,1136 968,1130" stroke-width="3.6"/>
<path d="M940,1137 C946,1143 955,1145 965,1142" stroke-width="3"/>
<ellipse cx="955.8" cy="1092.5" rx="10.5" ry="23" transform="rotate(-8 955.8 1092.5)" stroke-width="3.6"/>
<path d="M957,1111 L964,1110 L964,1116 L958,1117 Z" fill="#000" stroke="none"/>
<path d="M948,1150 L958,1155 L952,1161 Z" fill="#000" stroke="none"/>
<line x1="915" y1="1096.5" x2="958" y2="1093" stroke-width="2.8"/>
</g>

<g id="p9" stroke="#000" fill="none" stroke-linejoin="round">
<path d="M1203,1053 L1226,1050 C1232,1052 1232,1063 1228,1065 L1203,1071 Z" fill="#fff" stroke-width="3.4"/>
<path d="M1222,1052 c3,3 3,8 1,11" stroke-width="2"/>
<path d="M1165,1037 L1185,1030 C1198,1032 1205,1048 1205,1066 C1205,1085 1198,1095 1190,1096 L1168,1100 Z" fill="#000" stroke="none"/>
<path d="M1178,1062 l22,-1 M1178,1075 l20,0" stroke="#fff" stroke-width="1.2"/>
<path d="M1051,1028.3 L1156.6,1021.2 C1163,1024 1168,1030 1170,1036 C1175,1060 1176,1090 1172.8,1107.4 C1168,1115 1163,1118 1158.6,1119.6 L1053,1129.7 C1030,1130 1020,1105 1020.6,1080 C1021,1050 1035,1030 1051,1028.3 Z" fill="#000" stroke="#000" stroke-width="3"/>
<g stroke="#fff" stroke-width="2.3">
<path d="M1088,1045 L1145,1040 M1090,1052 L1148,1046 M1092,1060 L1150,1053 M1093,1068 L1150,1061 M1094,1076 L1151,1069 M1094,1084 L1151,1077 M1094,1092 L1150,1085 M1093,1100 L1150,1093 M1092,1108 L1148,1101 M1092,1114 L1146,1108"/>
<path d="M1085,1040 C1092,1060 1094,1095 1088,1122 M1148,1032 C1156,1060 1157,1095 1150,1116 M1155,1030 C1163,1060 1164,1090 1158,1114" stroke-dasharray="6 3"/>
</g>
<ellipse cx="1047" cy="1082" rx="21" ry="41" transform="rotate(-8 1047 1082)" fill="#fff" stroke="none"/>
<path d="M1030,1052 C1036,1046 1046,1048 1054,1056 L1058,1064 C1050,1060 1040,1058 1032,1062 Z" fill="#000" stroke="none"/>
<path d="M1028,1060 C1030,1057 1033,1056 1034,1062 L1033,1072 L1027,1072 Z" fill="#000" stroke="none"/>
<path d="M1037,1066 C1050,1062 1062,1075 1062,1088 C1062,1100 1054,1108 1046,1106" stroke="#000" stroke-width="3.6"/>
<path d="M1054,1045 C1062,1055 1066,1070 1066,1085 C1066,1100 1060,1115 1052,1122" stroke="#000" stroke-width="4.5"/>
<path d="M1030,1110 C1036,1116 1046,1120 1056,1116 L1060,1124 C1050,1128 1038,1126 1030,1120 Z" fill="#000" stroke="none"/>
<path d="M1033,1104 L1052,1100 L1054,1106 L1036,1112 Z" fill="#000" stroke="none"/>
<path d="M1024,1048 C1028,1040 1036,1036 1046,1036" stroke="#000" stroke-width="4"/>
<path d="M1040,1043 l6,3 M1034,1050 l2,-3" stroke="#000" stroke-width="2.4"/>
<path d="M1062,1050 l8,-2 M1064,1062 l8,0 M1066,1076 l8,0 M1066,1092 l8,1 M1064,1106 l7,2" stroke="#fff" stroke-width="1.6"/>
<path d="M1074,1038 C1082,1060 1084,1095 1078,1122" stroke="#fff" stroke-width="1.4" stroke-dasharray="4 3"/>
<path d="M1008,1072 L1038,1067 C1044,1072 1046,1096 1040,1101 L1010,1100 Z" fill="#000" stroke="none"/>
<path d="M1022,1073 L1040,1071 M1020,1082 L1042,1080 M1022,1090 L1042,1089" stroke="#fff" stroke-width="2.2"/>
<path d="M988,1078 L1015,1074 C1020,1078 1020,1092 1016,1096 L988,1097 C980,1094 980,1080 988,1078 Z" fill="#fff" stroke-width="3.4"/>
<path d="M993,1088 l4,0" stroke-width="2"/>
</g>
<g id="labels" fill="#000">
<path d="M1044.8,12.0 L1044.8,44.0 L1040.6,44.0 L1040.6,19.0 L1032.8,24.2 L1032.6,20.4 L1042.0,12.0 Z"/>
<text x="1054.6" y="44.0" font-size="45.5">2</text>
<path d="M1235.2,170.0 L1235.2,202.0 L1231.0,202.0 L1231.0,177.0 L1223.2,182.2 L1223.0,178.4 L1232.4,170.0 Z"/>
<text x="1245.0" y="202.0" font-size="45.5">4</text>
<path d="M1205.7,420.0 L1205.7,452.0 L1201.5,452.0 L1201.5,427.0 L1193.7,432.2 L1193.5,428.4 L1202.9,420.0 Z"/>
<text x="1215.5" y="452.0" font-size="45.5">3</text>
<text x="1101.2" y="475.0" font-size="45.5">2</text>
<text x="1126.5" y="475.0" font-size="45.5">0</text>
<path d="M1026.2,457.0 L1026.2,489.0 L1022.0,489.0 L1022.0,464.0 L1014.2,469.2 L1014.0,465.4 L1023.4,457.0 Z"/>
<path d="M1051.5,457.0 L1051.5,489.0 L1047.3,489.0 L1047.3,464.0 L1039.5,469.2 L1039.3,465.4 L1048.7,457.0 Z"/>
<path d="M962.2,465.0 L962.2,497.0 L958.0,497.0 L958.0,472.0 L950.2,477.2 L950.0,473.4 L959.4,465.0 Z"/>
<text x="972.0" y="497.0" font-size="45.5">0</text>
<text x="873.4" y="500.0" font-size="45.5">2</text>
<text x="898.7" y="500.0" font-size="45.5">0</text>
<path d="M782.7,489.0 L782.7,521.0 L778.5,521.0 L778.5,496.0 L770.7,501.2 L770.5,497.4 L779.9,489.0 Z"/>
<text x="792.5" y="521.0" font-size="45.5">8</text>
<path d="M620.2,507.0 L620.2,539.0 L616.0,539.0 L616.0,514.0 L608.2,519.2 L608.0,515.4 L617.4,507.0 Z"/>
<text x="630.0" y="539.0" font-size="45.5">9</text>
<path d="M364.0,604.0 L364.0,636.0 L359.8,636.0 L359.8,611.0 L352.0,616.2 L351.8,612.4 L361.2,604.0 Z"/>
<path d="M516.0,670.8 L516.0,702.8 L511.8,702.8 L511.8,677.8 L504.0,683.0 L503.8,679.2 L513.2,670.8 Z"/>
<text x="525.8" y="702.8" font-size="45.5">7</text>
<text x="651.7" y="706.0" font-size="45.5">2</text>
<text x="677.0" y="706.0" font-size="45.5">2</text>
<path d="M750.2,860.0 L750.2,892.0 L746.0,892.0 L746.0,867.0 L738.2,872.2 L738.0,868.4 L747.4,860.0 Z"/>
<text x="760.0" y="892.0" font-size="45.5">5</text>
<path d="M828.2,839.0 L828.2,871.0 L824.0,871.0 L824.0,846.0 L816.2,851.2 L816.0,847.4 L825.4,839.0 Z"/>
<text x="838.0" y="871.0" font-size="45.5">6</text>
<text x="74.0" y="961.0" font-size="45.5">8</text>
<text x="476.4" y="1001.0" font-size="45.5">7</text>
<text x="680.2" y="1085.0" font-size="45.5">2</text>
<text x="705.5" y="1085.0" font-size="45.5">0</text>
<text x="68.4" y="1112.0" font-size="45.5">5</text>
<text x="1098.4" y="1210.0" font-size="45.5">9</text>
<text x="732.9" y="1239.0" font-size="45.5">2</text>
<text x="538.4" y="1256.0" font-size="45.5">3</text>
<text x="449.4" y="1264.0" font-size="45.5">4</text>
<text x="381.7" y="1282.0" font-size="45.5">2</text>
<text x="407.0" y="1282.0" font-size="45.5">0</text>
<text x="13.4" y="1315.0" font-size="45.5">6</text>
<text x="292.4" y="1429.0" font-size="45.5">2</text>
<path d="M333.2,1397.0 L333.2,1429.0 L329.0,1429.0 L329.0,1404.0 L321.2,1409.2 L321.0,1405.4 L330.4,1397.0 Z"/>
</g>
<circle cx="355" cy="617.4" r="40.8" fill="none" stroke="#000" stroke-width="2.2"/>
<g id="bottomtext">
<text x="1036" y="1432.5" font-size="35" font-weight="bold" textLength="98" lengthAdjust="spacingAndGlyphs">F4806</text>
<text x="1148.5" y="1432.5" font-size="35" font-weight="bold" textLength="113" lengthAdjust="spacingAndGlyphs">CAC93</text>
<text x="983.5" y="1466.5" font-size="31.5" fill="#bdbdbd" textLength="287" lengthAdjust="spacingAndGlyphs">Saab Automobile AB</text>
</g>
<g id="leaders" stroke="#000" stroke-width="3.5" fill="none" stroke-linecap="butt">
<!-- 12 --><line x1="1052.7" y1="47" x2="1054" y2="114"/>
<!-- 14 --><line x1="1244.5" y1="207" x2="1245.7" y2="248"/>
<!-- 13 --><line x1="1209.5" y1="351" x2="1211.7" y2="412"/>
<!-- 20 right group --><polyline points="1063.6,347 1109.7,407.5 1149,401 1163.4,325"/>
<line x1="1101" y1="334" x2="1126" y2="404"/><line x1="1130.5" y1="328.6" x2="1134" y2="402"/>
<line x1="1128" y1="405" x2="1129.4" y2="435"/>
<!-- 11 --><line x1="1027.4" y1="341.7" x2="1031.8" y2="448"/>
<!-- 10 --><line x1="971" y1="405" x2="974" y2="456"/>
<!-- 20 washer --><line x1="897.5" y1="366" x2="901" y2="461"/>
<!-- 18 --><line x1="790" y1="417.5" x2="791" y2="480"/>
<!-- 19 --><line x1="627" y1="448" x2="631" y2="498.7"/>
<!-- 17 --><line x1="523" y1="708" x2="523.5" y2="760"/>
<!-- 22 --><line x1="679.5" y1="710.4" x2="681.9" y2="753.7"/>
<!-- 15 --><line x1="720.5" y1="825" x2="741.6" y2="852" stroke-width="2.5"/>
<!-- 16 --><line x1="780" y1="811" x2="808.3" y2="832" stroke-width="2.5"/>
<!-- 8 --><line x1="84.3" y1="970" x2="86" y2="1029.6"/>
<!-- 7 --><line x1="506" y1="980" x2="562.5" y2="972.5"/>
<!-- 20 seals --><polyline points="672.5,992.5 672.5,1031 738.7,1021 738.7,985"/><line x1="707.5" y1="1026" x2="707.5" y2="1043.7"/>
<!-- 5 --><line x1="98.4" y1="1096.9" x2="162.5" y2="1115.6"/>
<!-- 9 --><line x1="1109.6" y1="1128.7" x2="1110.8" y2="1170"/>
<!-- 2 --><line x1="745" y1="1129.4" x2="745" y2="1199.8"/>
<!-- 3 --><line x1="548.5" y1="1173" x2="549.7" y2="1216.5"/>
<!-- 4 --><line x1="464" y1="1165" x2="466.6" y2="1224.7"/>
<!-- 20 clips --><polyline points="390.4,1176.7 391.6,1227 426.7,1224.7 424.4,1174.3"/><line x1="408" y1="1227" x2="409" y2="1242"/>
<!-- 6 --><line x1="29.7" y1="1217" x2="29.7" y2="1275"/>
<!-- 21 --><line x1="317" y1="1348" x2="317" y2="1389"/>
</g>

<g id="watermark" opacity="0.7">
<text x="400.5" y="756.3" font-size="44" font-weight="bold" textLength="476" lengthAdjust="spacingAndGlyphs" fill="#a2a2a2" stroke="#a2a2a2" stroke-width="4.4" stroke-linejoin="round">SAAB-MASTER</text>
<text x="402.5" y="754" font-size="44" font-weight="bold" textLength="476" lengthAdjust="spacingAndGlyphs" fill="#8e8e8e" stroke="#8e8e8e" stroke-width="4.8" stroke-linejoin="round">SAAB-MASTER</text>
<text x="402.5" y="754" font-size="44" font-weight="bold" textLength="476" lengthAdjust="spacingAndGlyphs" fill="url(#wg)" stroke="url(#wg)" stroke-width="2.6" stroke-linejoin="round">SAAB-MASTER</text>
</g>
</svg>
</body></html>
